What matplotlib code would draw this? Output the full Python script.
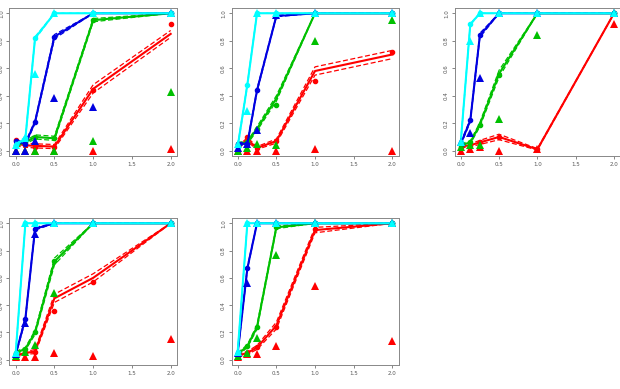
import numpy as np
import matplotlib
matplotlib.use('Agg')
from matplotlib import pyplot as plt

# doses on the x axis
doses = [0, 0.125, 0.25, 0.5, 1, 2]

# series order in every panel: red, green, blue, cyan
colors = ['#ff0000', '#00c000', '#0000e0', '#00ffff']

# panel 1
p1_fit = [[0.05, 0.04, 0.035, 0.03, 0.45, 0.85],
          [0.04, 0.06, 0.10, 0.09, 0.95, 1.0],
          [0.07, 0.05, 0.21, 0.83, 1.0, 1.0],
          [0.04, 0.09, 0.82, 1.0, 1.0, 1.0]]
p1_band = [[0.015, 0.015, 0.015, 0.015, 0.03, 0.025],
           [0.01, 0.01, 0.015, 0.015, 0.012, 0.0],
           [0.01, 0.01, 0.01, 0.015, 0.0, 0.0],
           [0.01, 0.01, 0.01, 0.0, 0.0, 0.0]]
p1_obs = [[0.08, 0.04, 0.03, 0.03, 0.44, 0.92],
          [0.04, 0.06, 0.10, 0.09, 0.95, 1.0],
          [0.07, 0.05, 0.21, 0.83, 1.0, 1.0],
          [0.04, 0.09, 0.82, 1.0, 1.0, 1.0]]
p1_tri = [[0.0, 0.0, 0.0, 0.0, 0.0, 0.01],
          [0.0, 0.0, 0.0, 0.0, 0.07, 0.43],
          [0.0, 0.0, 0.07, 0.38, 0.32, 1.0],
          [0.04, 0.09, 0.56, 1.0, 1.0, 1.0]]

# panel 2
p2_fit = [[0.02, 0.08, 0.02, 0.07, 0.58, 0.70],
          [0.05, 0.06, 0.16, 0.38, 1.0, 1.0],
          [0.05, 0.05, 0.44, 0.98, 1.0, 1.0],
          [0.03, 0.48, 1.0, 1.0, 1.0, 1.0]]
p2_band = [[0.01, 0.015, 0.01, 0.015, 0.03, 0.03],
           [0.01, 0.01, 0.015, 0.02, 0.0, 0.0],
           [0.01, 0.01, 0.01, 0.005, 0.0, 0.0],
           [0.01, 0.01, 0.0, 0.0, 0.0, 0.0]]
p2_obs = [[0.0, 0.10, 0.02, 0.07, 0.51, 0.72],
          [0.05, 0.06, 0.16, 0.33, 1.0, 1.0],
          [0.05, 0.05, 0.44, 0.98, 1.0, 1.0],
          [0.03, 0.48, 1.0, 1.0, 1.0, 1.0]]
p2_tri = [[0.0, 0.0, 0.0, 0.0, 0.01, 0.0],
          [0.0, 0.02, 0.05, 0.04, 0.80, 0.95],
          [0.02, 0.05, 0.15, 0.99, 1.0, 1.0],
          [0.05, 0.29, 1.0, 1.0, 1.0, 1.0]]

# panel 3
p3_fit = [[0.03, 0.04, 0.06, 0.10, 0.01, 1.0],
          [0.04, 0.06, 0.19, 0.56, 1.0, 1.0],
          [0.05, 0.22, 0.84, 1.0, 1.0, 1.0],
          [0.06, 0.92, 1.0, 1.0, 1.0, 1.0]]
p3_band = [[0.01, 0.01, 0.015, 0.02, 0.005, 0.0],
           [0.01, 0.01, 0.015, 0.025, 0.0, 0.0],
           [0.01, 0.01, 0.015, 0.0, 0.0, 0.0],
           [0.01, 0.005, 0.0, 0.0, 0.0, 0.0]]
p3_obs = [[0.03, 0.04, 0.06, 0.10, 0.01, 1.0],
          [0.04, 0.06, 0.19, 0.55, 1.0, 1.0],
          [0.05, 0.22, 0.84, 1.0, 1.0, 1.0],
          [0.06, 0.92, 1.0, 1.0, 1.0, 1.0]]
p3_tri = [[0.0, 0.01, 0.03, 0.0, 0.01, 0.92],
          [0.03, 0.04, 0.04, 0.23, 0.84, 1.0],
          [0.06, 0.13, 0.53, 1.0, 1.0, 1.0],
          [0.06, 0.80, 1.0, 1.0, 1.0, 1.0]]

# panel 4
p4_fit = [[0.03, 0.05, 0.06, 0.45, 0.60, 1.0],
          [0.05, 0.08, 0.20, 0.72, 1.0, 1.0],
          [0.04, 0.30, 0.96, 1.0, 1.0, 1.0],
          [0.05, 1.0, 1.0, 1.0, 1.0, 1.0]]
p4_band = [[0.01, 0.01, 0.015, 0.03, 0.03, 0.0],
           [0.01, 0.01, 0.015, 0.025, 0.0, 0.0],
           [0.01, 0.01, 0.01, 0.0, 0.0, 0.0],
           [0.01, 0.0, 0.0, 0.0, 0.0, 0.0]]
p4_obs = [[0.03, 0.05, 0.06, 0.36, 0.57, 1.0],
          [0.05, 0.08, 0.20, 0.72, 1.0, 1.0],
          [0.04, 0.30, 0.96, 1.0, 1.0, 1.0],
          [0.05, 1.0, 1.0, 1.0, 1.0, 1.0]]
p4_tri = [[0.02, 0.02, 0.02, 0.05, 0.03, 0.15],
          [0.03, 0.06, 0.11, 0.49, 1.0, 1.0],
          [0.04, 0.27, 0.92, 1.0, 1.0, 1.0],
          [0.05, 1.0, 1.0, 1.0, 1.0, 1.0]]

# panel 5
p5_fit = [[0.03, 0.05, 0.09, 0.25, 0.95, 1.0],
          [0.04, 0.10, 0.24, 0.97, 1.0, 1.0],
          [0.05, 0.67, 1.0, 1.0, 1.0, 1.0],
          [0.06, 1.0, 1.0, 1.0, 1.0, 1.0]]
p5_band = [[0.01, 0.01, 0.015, 0.025, 0.02, 0.0],
           [0.01, 0.01, 0.015, 0.01, 0.0, 0.0],
           [0.01, 0.01, 0.0, 0.0, 0.0, 0.0],
           [0.01, 0.0, 0.0, 0.0, 0.0, 0.0]]
p5_obs = [[0.03, 0.05, 0.09, 0.24, 0.96, 1.0],
          [0.04, 0.10, 0.24, 0.97, 1.0, 1.0],
          [0.05, 0.67, 1.0, 1.0, 1.0, 1.0],
          [0.06, 1.0, 1.0, 1.0, 1.0, 1.0]]
p5_tri = [[0.02, 0.04, 0.04, 0.10, 0.54, 0.14],
          [0.03, 0.05, 0.16, 0.77, 1.0, 1.0],
          [0.05, 0.56, 1.0, 1.0, 1.0, 1.0],
          [0.06, 1.0, 1.0, 1.0, 1.0, 1.0]]

panels = [(p1_fit, p1_band, p1_obs, p1_tri),
          (p2_fit, p2_band, p2_obs, p2_tri),
          (p3_fit, p3_band, p3_obs, p3_tri),
          (p4_fit, p4_band, p4_obs, p4_tri),
          (p5_fit, p5_band, p5_obs, p5_tri)]

# axes boxes in figure fractions (left, bottom, width, height)
boxes = [[0.0153, 0.5985, 0.270, 0.3815],
         [0.3734, 0.5985, 0.2694, 0.3815],
         [0.7332, 0.5985, 0.2671, 0.3815],
         [0.0153, 0.0612, 0.270, 0.3789],
         [0.3734, 0.0612, 0.2694, 0.3789]]

fig = plt.figure(figsize=(6.2, 3.89), dpi=100)
x = np.array(doses)

for (fit, band, obs, tri), box in zip(panels, boxes):
    ax = fig.add_axes(box)
    for i, c in enumerate(colors):
        f = np.array(fit[i])
        b = np.array(band[i])
        ax.plot(x, f, color=c, lw=1.5, zorder=2 + i)
        ax.plot(x, np.minimum(f + b, 1.0), color=c, lw=0.9, ls=(0, (4, 2)), zorder=2 + i)
        ax.plot(x, f - b, color=c, lw=0.9, ls=(0, (4, 2)), zorder=2 + i)
        ax.plot(x, obs[i], 'o', color=c, ms=3, zorder=2 + i)
        ax.plot(x, tri[i], '^', color=c, ms=5.5, mew=0, zorder=6 + i)

    ax.set_xlim(-0.08, 2.08)
    ax.set_ylim(-0.04, 1.04)
    ax.set_xticks([0, 0.5, 1, 1.5, 2])
    ax.set_xticklabels(['0.0', '0.5', '1.0', '1.5', '2.0'])
    ax.set_yticks([0, 0.2, 0.4, 0.6, 0.8, 1.0])
    ax.set_yticklabels(['0.0', '0.2', '0.4', '0.6', '0.8', '1.0'], rotation=90, va='center')
    ax.tick_params(labelsize=4, length=2.5, width=0.5, colors='#555555', pad=1.5)
    for s in ax.spines.values():
        s.set_color('#888888')
        s.set_linewidth(0.7)

fig.savefig('out.png', dpi=100)
